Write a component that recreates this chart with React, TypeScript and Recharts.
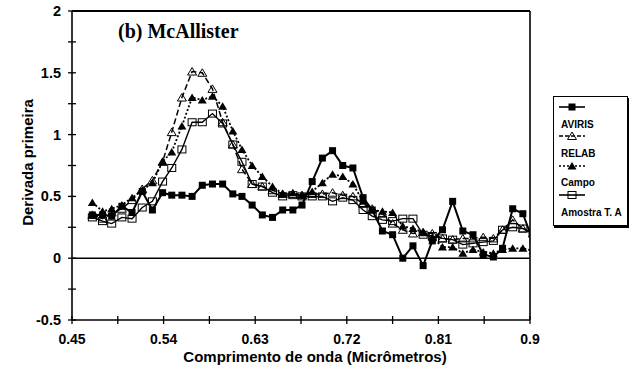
import React from 'react';
import { LineChart, Line, XAxis, YAxis, ReferenceLine } from 'recharts';

// comprimento de onda (µm) dos pontos
const wavelength = [
    0.470, 0.480, 0.489, 0.499, 0.509, 0.519, 0.529, 0.539, 0.548, 0.558,
    0.568, 0.578, 0.588, 0.598, 0.608, 0.617, 0.627, 0.637, 0.647, 0.657,
    0.667, 0.676, 0.686, 0.696, 0.706, 0.716, 0.726, 0.736, 0.745, 0.755,
    0.765, 0.775, 0.785, 0.795, 0.804, 0.814, 0.824, 0.834, 0.844, 0.854,
    0.864, 0.873, 0.883, 0.893, 0.903,
];

const aviris = [
    0.35, 0.35, 0.34, 0.42, 0.37, 0.54, 0.39, 0.53, 0.51, 0.51,
    0.50, 0.59, 0.60, 0.60, 0.52, 0.50, 0.43, 0.35, 0.33, 0.39,
    0.39, 0.43, 0.62, 0.81, 0.87, 0.75, 0.73, 0.49, 0.39, 0.22,
    0.19, 0.00, 0.10, -0.06, 0.14, 0.23, 0.46, 0.22, 0.19, 0.03,
    0.01, 0.08, 0.40, 0.36, 0.14,
];

const relab = [
    0.35, 0.32, 0.37, 0.40, 0.47, 0.56, 0.63, 0.78, 1.02, 1.30,
    1.51, 1.50, 1.37, 1.10, 0.92, 0.72, 0.60, 0.58, 0.55, 0.52,
    0.52, 0.51, 0.52, 0.52, 0.53, 0.51, 0.50, 0.44, 0.40, 0.36,
    0.28, 0.23, 0.20, 0.21, 0.20, 0.16, 0.15, 0.16, 0.16, 0.17,
    0.16, 0.23, 0.31, 0.24, 0.20,
];

const campo = [
    0.45, 0.38, 0.40, 0.43, 0.49, 0.55, 0.61, 0.78, 0.86, 1.07,
    1.30, 1.28, 1.31, 1.23, 1.03, 0.88, 0.75, 0.66, 0.58, 0.52,
    0.53, 0.51, 0.54, 0.61, 0.68, 0.66, 0.60, 0.46, 0.39, 0.38,
    0.37, 0.26, 0.24, 0.21, 0.17, 0.09, 0.09, 0.04, 0.07, 0.05,
    0.04, 0.07, 0.08, 0.08, 0.06,
];

const amostra = [
    0.33, 0.30, 0.28, 0.33, 0.32, 0.41, 0.46, 0.62, 0.73, 0.88,
    1.10, 1.10, 1.17, 1.09, 0.92, 0.78, 0.60, 0.58, 0.53, 0.50,
    0.51, 0.50, 0.50, 0.50, 0.46, 0.49, 0.47, 0.39, 0.34, 0.31,
    0.30, 0.32, 0.32, 0.19, 0.18, 0.16, 0.15, 0.11, 0.12, 0.13,
    0.14, 0.23, 0.25, 0.24, 0.20,
];

const xTicks = [0.45, 0.495, 0.54, 0.585, 0.63, 0.675, 0.72, 0.765, 0.81, 0.855, 0.9];
const xLabels = ['0.45', '0.54', '0.63', '0.72', '0.81', '0.9'];
const yTicks = [-0.5, -0.25, 0, 0.25, 0.5, 0.75, 1, 1.25, 1.5, 1.75, 2];
const yLabels = ['-0.5', '0', '0.5', '1', '1.5', '2'];

const seriesNames = ['AVIRIS', 'RELAB', 'Campo', 'Amostra T. A'];

const data = wavelength.map((w, i) => ({
    w,
    aviris: aviris[i],
    relab: relab[i],
    campo: campo[i],
    amostra: amostra[i],
}));

const FONT = '"Liberation Sans", Arial, sans-serif';

// marcadores estilo Excel
const filledSquare = (p: any) =>
    p.cx == null ? <g key={p.index} /> : (
        <rect key={p.index} x={p.cx - 3.5} y={p.cy - 3.5} width={7} height={7} fill="#000" />
    );
const openSquare = (p: any) =>
    p.cx == null ? <g key={p.index} /> : (
        <rect key={p.index} x={p.cx - 4} y={p.cy - 3.5} width={8} height={7} fill="none" stroke="#000" strokeWidth={1} />
    );
const triPath = (cx: number, cy: number) => `M${cx - 4.5},${cy + 3.5} L${cx},${cy - 4} L${cx + 4.5},${cy + 3.5} Z`;
const openTriangle = (p: any) =>
    p.cx == null ? <g key={p.index} /> : (
        <path key={p.index} d={triPath(p.cx, p.cy)} fill="none" stroke="#000" strokeWidth={1} />
    );
const filledTriangle = (p: any) =>
    p.cx == null ? <g key={p.index} /> : (
        <path key={p.index} d={triPath(p.cx, p.cy)} fill="#000" />
    );

const XTick = (props: any) => {
    const { x, y, index } = props;
    const label = index % 2 === 0 ? xLabels[index / 2] : null;
    return (
        <g>
            <line x1={x} x2={x} y1={y - 4} y2={y + 4} stroke="#000" strokeWidth={1.3} />
            {label && (
                <text x={x} y={y + 24} textAnchor="middle" fontFamily={FONT} fontWeight="bold" fontSize={14} fill="#000">
                    {label}
                </text>
            )}
        </g>
    );
};

const YTick = (props: any) => {
    const { x, y, index } = props;
    const label = index % 2 === 0 ? yLabels[index / 2] : null;
    return (
        <g>
            <line x1={x - 4} x2={x + 4} y1={y} y2={y} stroke="#000" strokeWidth={1.3} />
            {label && (
                <text x={x - 11} y={y + 5} textAnchor="end" fontFamily={FONT} fontWeight="bold" fontSize={14.5} fill="#000">
                    {label}
                </text>
            )}
        </g>
    );
};

const LegendBox = () => {
    const rows = [
        { y: 11, dash: undefined, marker: 'fsq' },
        { y: 40, dash: '4 2', marker: 'otri' },
        { y: 70, dash: '2 2', marker: 'ftri' },
        { y: 99, dash: undefined, marker: 'osq' },
    ];
    const textY = [32, 61, 90, 119.5];
    return (
        <div
            style={{
                position: 'absolute', left: 553, top: 96, width: 75, height: 130,
                border: '1px solid #000', boxShadow: '1px 2px 0 #000', background: '#fff', boxSizing: 'border-box',
            }}
        >
            <svg width={75} height={130} style={{ position: 'absolute', left: -1, top: -1 }}>
                {rows.map((r, i) => (
                    <g key={i}>
                        <line x1={6} x2={32} y1={r.y} y2={r.y} stroke="#000" strokeWidth={1.6} strokeDasharray={r.dash} />
                        {r.marker === 'fsq' && <rect x={15.5} y={r.y - 3.5} width={7} height={7} fill="#000" />}
                        {r.marker === 'osq' && <rect x={15} y={r.y - 3.5} width={8} height={7} fill="none" stroke="#000" />}
                        {r.marker === 'otri' && <path d={triPath(19, r.y)} fill="none" stroke="#000" />}
                        {r.marker === 'ftri' && <path d={triPath(19, r.y)} fill="#000" />}
                        <text x={8} y={textY[i]} fontFamily={FONT} fontWeight="bold" fontSize={10} fill="#000">
                            {seriesNames[i]}
                        </text>
                    </g>
                ))}
            </svg>
        </div>
    );
};

const App: React.FC = () => {
    return (
        <div style={{ position: 'absolute', left: 0, top: 0, width: 631, height: 368, background: '#fff' }}>
            <LineChart width={631} height={368} data={data} margin={{ top: 11, right: 101, bottom: 0, left: 0 }}>
                <XAxis
                    type="number"
                    dataKey="w"
                    domain={[0.45, 0.9]}
                    ticks={xTicks}
                    interval={0}
                    allowDataOverflow
                    height={48}
                    axisLine={{ stroke: '#000', strokeWidth: 1.6 }}
                    tickLine={false}
                    tickSize={0}
                    tickMargin={0}
                    tick={<XTick />}
                />
                <YAxis
                    type="number"
                    domain={[-0.5, 2]}
                    ticks={yTicks}
                    interval={0}
                    allowDataOverflow
                    width={72}
                    axisLine={{ stroke: '#000', strokeWidth: 1.6 }}
                    tickLine={false}
                    tickSize={0}
                    tickMargin={0}
                    tick={<YTick />}
                />
                <ReferenceLine y={0} stroke="#000" strokeWidth={1.6} />
                <ReferenceLine y={2} stroke="#000" strokeWidth={2} />
                <ReferenceLine x={0.9} stroke="#000" strokeWidth={1.6} />
                <Line dataKey="amostra" stroke="#000" strokeWidth={1.4} dot={openSquare} activeDot={false} isAnimationActive={false} />
                <Line dataKey="campo" stroke="#000" strokeWidth={1.8} strokeDasharray="2 2" dot={filledTriangle} activeDot={false} isAnimationActive={false} />
                <Line dataKey="relab" stroke="#000" strokeWidth={1.5} strokeDasharray="6 3" dot={openTriangle} activeDot={false} isAnimationActive={false} />
                <Line dataKey="aviris" stroke="#000" strokeWidth={2} dot={filledSquare} activeDot={false} isAnimationActive={false} />
            </LineChart>

            <svg width={631} height={368} style={{ position: 'absolute', left: 0, top: 0, pointerEvents: 'none' }}>
                <text x={118} y={38} fontFamily='"Liberation Serif", "Times New Roman", serif' fontWeight="bold" fontSize={20} fill="#000">
                    (b) McAllister
                </text>
                <text x={315} y={362} textAnchor="middle" fontFamily={FONT} fontWeight="bold" fontSize={15} fill="#000">
                    Comprimento de onda (Micrômetros)
                </text>
                <text
                    x={33}
                    y={162.5}
                    textAnchor="middle"
                    transform="rotate(-90, 33, 162.5)"
                    fontFamily={FONT}
                    fontWeight="bold"
                    fontSize={15}
                    fill="#000"
                >
                    Derivada primeira
                </text>
            </svg>
            <LegendBox />
        </div>
    );
};

export default App;
